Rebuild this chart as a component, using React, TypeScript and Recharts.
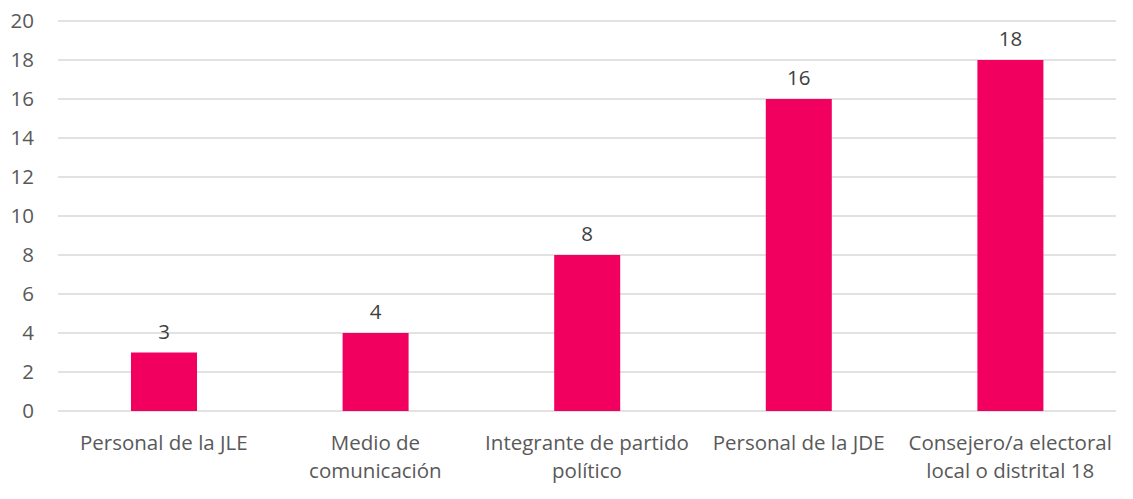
import { BarChart, Bar, XAxis, YAxis, CartesianGrid, LabelList } from 'recharts';

const categories = [
    'Personal de la JLE',
    'Medio de|comunicación',
    'Integrante de partido|político',
    'Personal de la JDE',
    'Consejero/a electoral|local o distrital 18',
];
const values = [3, 4, 8, 16, 18];
const yTicks = [0, 2, 4, 6, 8, 10, 12, 14, 16, 18, 20];

const data = categories.map((name, i) => ({ name, value: values[i] }));

const FONT = '"Open Sans", sans-serif';

function CategoryTick({ x, y, payload }: any) {
    const lines = String(payload.value).split('|');
    return (
        <g transform={`translate(${x},${y})`}>
            <text textAnchor="middle" fill="#595959" fontSize={20.5} fontFamily={FONT}>
                {lines.map((line, i) => (
                    <tspan key={i} x={0} y={39 + i * 28}>
                        {line}
                    </tspan>
                ))}
            </text>
        </g>
    );
}

export default function App() {
    return (
        <BarChart
            width={1117}
            height={483}
            data={data}
            margin={{ top: 13, right: 9, bottom: 0, left: 0 }}
        >
            <CartesianGrid vertical={false} stroke="#d9d9d9" strokeWidth={1.5} />
            <XAxis
                dataKey="name"
                height={80}
                axisLine={false}
                tickLine={false}
                tickSize={0}
                tickMargin={0}
                interval={0}
                tick={<CategoryTick />}
            />
            <YAxis
                width={50}
                domain={[0, 20]}
                ticks={yTicks}
                axisLine={false}
                tickLine={false}
                tickSize={0}
                tickMargin={24}
                tick={{ fill: '#595959', fontSize: 20.5, fontFamily: FONT }}
            />
            <Bar dataKey="value" fill="#f20060" barSize={66} isAnimationActive={false}>
                <LabelList
                    dataKey="value"
                    position="top"
                    offset={14}
                    fill="#404040"
                    fontSize={20.5}
                    fontFamily={FONT}
                />
            </Bar>
        </BarChart>
    );
}
